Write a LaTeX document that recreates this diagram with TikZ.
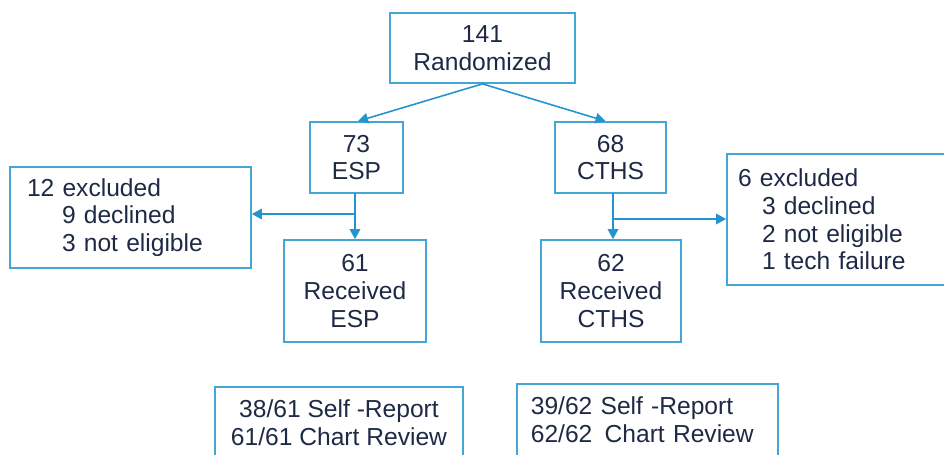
\documentclass[tikz,border=0pt]{standalone}
\usepackage{fontspec}
\setmainfont{Liberation Sans}
\usetikzlibrary{arrows.meta}

\definecolor{waku}{HTML}{45A5D5}
\definecolor{yajirushi}{HTML}{2394CF}
\definecolor{moji}{HTML}{1E2A45}

\tikzset{
    hako/.style={draw=waku, line width=1pt, text=moji, align=center,
        inner sep=0pt, font=\fontsize{14}{15.8}\selectfont},
    ya/.style={draw=yajirushi, line width=0.9pt,
        -{Triangle[length=0.2cm, width=0.21cm]}}
}

\begin{document}
\begin{tikzpicture}[x=0.02cm, y=-0.02cm]
    % 描画範囲
    \path[use as bounding box, clip] (0,0) rectangle (944,454);

    % 箱の描画
    \node[hako, minimum width=3.7cm, minimum height=1.4cm] (rand) at (482.5,48) {141\\Randomized};
    \node[hako, minimum width=1.86cm, minimum height=1.42cm] (esp) at (356.5,157.5) {73\\ESP};
    \node[hako, minimum width=2.22cm, minimum height=1.42cm] (cths) at (610.5,157.5) {68\\CTHS};
    \node[hako, minimum width=2.84cm, minimum height=2.04cm] (recesp) at (355,291) {61\\Received\\ESP};
    \node[hako, minimum width=2.8cm, minimum height=2.04cm] (reccths) at (611,291) {62\\Received\\CTHS};

    % 除外の箱
    \node[hako, minimum width=4.82cm, minimum height=2.02cm, align=left,
        text width=4.14cm, inner xsep=0.34cm] (exclesp) at (130.5,217.5)
        {12 excluded\\\hspace*{0.7cm}9 declined\\\hspace*{0.7cm}3 not eligible};
    \node[hako, minimum width=4.66cm, minimum height=2.62cm, align=left,
        text width=4.22cm, inner xsep=0.22cm] (exclcths) at (843.5,219.5)
        {6 excluded\\\hspace*{0.48cm}3 declined\\\hspace*{0.48cm}2 not eligible\\\hspace*{0.48cm}1 tech failure};

    % 下の箱
    \node[hako, anchor=north, minimum width=4.96cm, inner ysep=0.26cm,
        text depth=1.2cm] (kekkaesp) at (339,386)
        {38/61 Self -Report\\61/61 Chart Review};
    \node[hako, anchor=north west, align=left, text width=4.66cm,
        inner xsep=0.28cm, inner ysep=0.26cm, text depth=1.2cm] (kekkacths) at (516,383)
        {39/62 Self -Report\\62/62\, Chart Review};

    % 矢印の描画
    \draw[ya] (rand.south) -- ([xshift=0.03cm]esp.north);
    \draw[ya] (rand.south) -- ([xshift=-0.1cm]cths.north);

    \coordinate (bunki1) at (355,214);
    \coordinate (bunki2) at (613,219);
    \draw[ya] (355,193) -- (recesp.north);
    \draw[ya] (bunki1) -- (bunki1 -| exclesp.east);
    \draw[ya] (613,193) -- (reccths.north -| bunki2);
    \draw[ya] (bunki2) -- (bunki2 -| exclcths.west);

\end{tikzpicture}
\end{document}
